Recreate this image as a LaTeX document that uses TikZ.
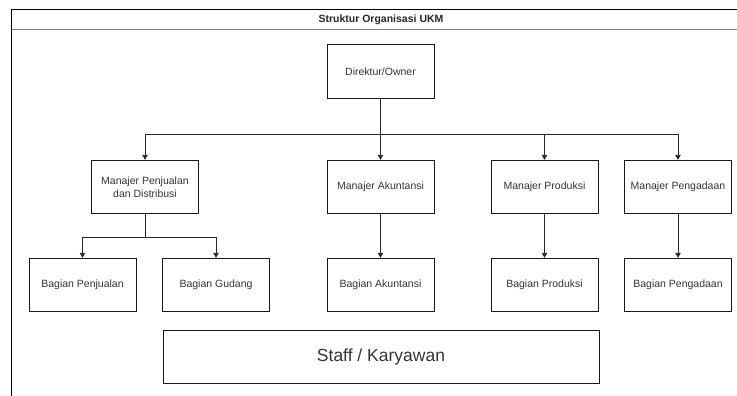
\documentclass[tikz,border=0pt]{standalone}
\usepackage{fontspec}
\setmainfont{Liberation Sans}
\usetikzlibrary{arrows.meta}
\begin{document}
\begin{tikzpicture}[x=1pt,y=-1pt,
  box/.style={draw=black!90,line width=0.9pt,minimum width=107pt,minimum height=53.5pt,inner sep=0pt,align=center,font=\fontsize{10.5}{13}\selectfont,text=black!80},
  conn/.style={draw=black!85,line width=0.9pt},
  arr/.style={conn,-{Triangle[length=5pt,width=5.5pt]}}]
\useasboundingbox (0,0) rectangle (737,396);
% frame
\draw[line width=1pt] (11.5,396) -- (11.5,9.5) -- (737,9.5);
\draw[black!50,line width=1.3pt] (11.5,29.8) -- (737,29.8);
\node[font=\bfseries\fontsize{10.5}{12}\selectfont,text=black!85] (title) at (381,20) {Struktur Organisasi UKM};
% boxes
\node[box] (dir) at (380.5,71.5) {Direktur/Owner};
\node[box] (m1) at (145,187) {Manajer Penjualan\\dan Distribusi};
\node[box] (m2) at (380.5,187) {Manajer Akuntansi};
\node[box] (m3) at (544.5,187) {Manajer Produksi};
\node[box] (m4) at (678,187) {Manajer Pengadaan};
\node[box] (b1) at (82.5,285) {Bagian Penjualan};
\node[box] (b2) at (216,285) {Bagian Gudang};
\node[box] (b3) at (380.5,285) {Bagian Akuntansi};
\node[box] (b4) at (544.5,285) {Bagian Produksi};
\node[box] (b5) at (678,285) {Bagian Pengadaan};
\node[box,minimum width=436pt,minimum height=53pt,font=\fontsize{17.5}{20}\selectfont] (staff) at (381,356.5) {Staff / Karyawan};
% connectors
\coordinate (bus) at (380.5,134);
\draw[arr] (dir.south) -- (m2.north);
\draw[arr] (bus) -| (m1.north);
\draw[arr] (bus) -| (m3.north);
\draw[arr] (bus) -| (m4.north);
\coordinate (bus2) at (145,237);
\draw[conn] (m1.south) -- (bus2);
\draw[arr] (bus2) -| (b1.north);
\draw[arr] (bus2) -| (b2.north);
\draw[arr] (m2.south) -- (b3.north);
\draw[arr] (m3.south) -- (b4.north);
\draw[arr] (m4.south) -- (b5.north);
\end{tikzpicture}
\end{document}
